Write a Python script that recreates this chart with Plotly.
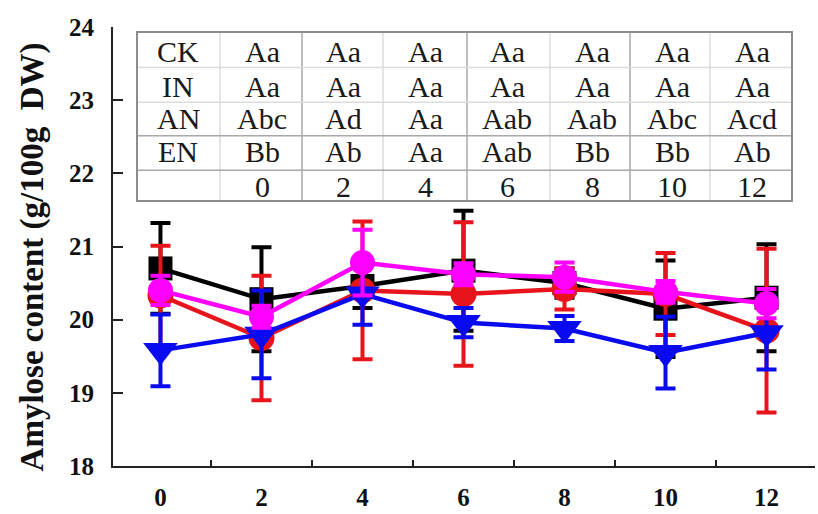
import plotly.graph_objects as go

# ---------------- data ----------------
days = ["0", "2", "4", "6", "8", "10", "12"]

ck_mean = [20.70, 20.28, 20.46, 20.67, 20.50, 20.15, 20.30]
ck_err  = [0.62, 0.71, 0.30, 0.82, 0.20, 0.66, 0.73]

in_mean = [20.33, 19.75, 20.40, 20.35, 20.42, 20.35, 19.85]
in_err  = [0.68, 0.85, 0.94, 0.98, 0.28, 0.56, 1.12]

en_mean = [19.58, 19.80, 20.35, 19.96, 19.88, 19.55, 19.82]
en_err  = [0.49, 0.60, 0.42, 0.20, 0.17, 0.49, 0.50]

an_mean = [20.40, 20.04, 20.78, 20.62, 20.58, 20.38, 20.22]
an_err  = [0.20, 0.15, 0.45, 0.15, 0.20, 0.15, 0.20]

row_labels = ["CK", "IN", "AN", "EN", ""]
ck_letters = ["Aa", "Aa", "Aa", "Aa", "Aa", "Aa", "Aa"]
in_letters = ["Aa", "Aa", "Aa", "Aa", "Aa", "Aa", "Aa"]
an_letters = ["Abc", "Ad", "Aa", "Aab", "Aab", "Abc", "Acd"]
en_letters = ["Bb", "Ab", "Aa", "Aab", "Bb", "Bb", "Ab"]

y_ticks = [18, 19, 20, 21, 22, 23, 24]
y_title = "Amylose content (g/100g\u00a0\u00a0DW)"

# ---------------- layout geometry (pixels) ----------------
W, H = 818, 514
L, R, T, B = 113, 815, 27, 471
PW, PH = R - L, B - T


def px(x):
    return (x - L) / PW


def py(y):
    return (B - y) / PH


FONT = "Times New Roman, Liberation Serif, serif"

fig = go.Figure()

series = [
    ("CK", ck_mean, ck_err, "#000000", "square", 24),
    ("IN", in_mean, in_err, "#e8141c", "circle", 26),
    ("EN", en_mean, en_err, "#0a0af0", "triangle-down", 30),
    ("AN", an_mean, an_err, "#ff00ff", "circle", 25),
]
for name, m, e, c, sym, sz in series:
    fig.add_trace(go.Scatter(
        x=days, y=m, name=name, mode="lines+markers",
        line=dict(color=c, width=4.5),
        marker=dict(symbol=sym, size=sz, color=c, line=dict(width=0)),
        error_y=dict(type="data", array=e, visible=True, color=c,
                     thickness=4, width=10),
        showlegend=False,
    ))

# ---------------- table ----------------
tab_left, tab_right, tab_top, tab_bot = 137, 792, 32, 203
col_bounds = [137, 220, 302, 383, 467, 550, 630, 710, 792]
row_bounds = [32, 68, 103, 137, 172, 203]
col_centers = [178, 262, 343, 425, 507, 592, 672, 752]
row_centers = [52, 87, 120, 153, 188]

shapes = []
for i, xb in enumerate(col_bounds[1:-1]):
    dark = (i % 2 == 1)
    shapes.append(dict(type="line", xref="paper", yref="paper",
                       x0=px(xb), x1=px(xb), y0=py(tab_top), y1=py(tab_bot),
                       line=dict(color="#a8a8a8" if dark else "#dcdcdc", width=1.5)))
for j, yb in enumerate(row_bounds[1:-1]):
    dark = j >= 2
    shapes.append(dict(type="line", xref="paper", yref="paper",
                       x0=px(tab_left), x1=px(tab_right), y0=py(yb), y1=py(yb),
                       line=dict(color="#a8a8a8" if dark else "#dcdcdc", width=1.5)))
shapes.append(dict(type="rect", xref="paper", yref="paper",
                   x0=px(tab_left), x1=px(tab_right), y0=py(tab_bot), y1=py(tab_top),
                   line=dict(color="#8c8c8c", width=2)))

rows = [ck_letters, in_letters, an_letters, en_letters, days]
annotations = []
for r, (lab, vals) in enumerate(zip(row_labels, rows)):
    cells = [lab] + list(vals)
    for c, txt in enumerate(cells):
        if txt == "":
            continue
        annotations.append(dict(
            x=px(col_centers[c]), y=py(row_centers[r]), xref="paper", yref="paper",
            text=txt, showarrow=False, xanchor="center", yanchor="middle",
            font=dict(family=FONT, size=30, color="#1a1a1a")))

annotations.append(dict(
    x=px(32), y=py(260), xref="paper", yref="paper", text="<b>%s</b>" % y_title,
    textangle=-90, showarrow=False, xanchor="center", yanchor="middle",
    font=dict(family=FONT, size=33, color="#111111")))

fig.update_layout(
    width=W, height=H,
    margin=dict(l=L, r=W - R, t=T, b=H - B, pad=0),
    paper_bgcolor="white", plot_bgcolor="white",
    shapes=shapes, annotations=annotations,
    font=dict(family=FONT, color="#111111"),
)
fig.update_xaxes(
    type="category", range=[-0.47, 6.48], tickson="boundaries",
    ticks="inside", ticklen=6, tickwidth=2, tickcolor="#222222",
    showline=True, linecolor="#222222", linewidth=2,
    showgrid=False, zeroline=False,
    tickfont=dict(family=FONT, size=25, color="#111111", weight="bold"),
    ticklabelstandoff=8,
)
fig.update_yaxes(
    range=[18, 24], tickvals=y_ticks, ticktext=[str(v) for v in y_ticks],
    ticks="inside", ticklen=10, tickwidth=2, tickcolor="#222222",
    showline=True, linecolor="#222222", linewidth=2,
    showgrid=False, zeroline=False,
    tickfont=dict(family=FONT, size=25, color="#111111", weight="bold"),
    ticklabelstandoff=12,
)

fig.write_html("out.html")
